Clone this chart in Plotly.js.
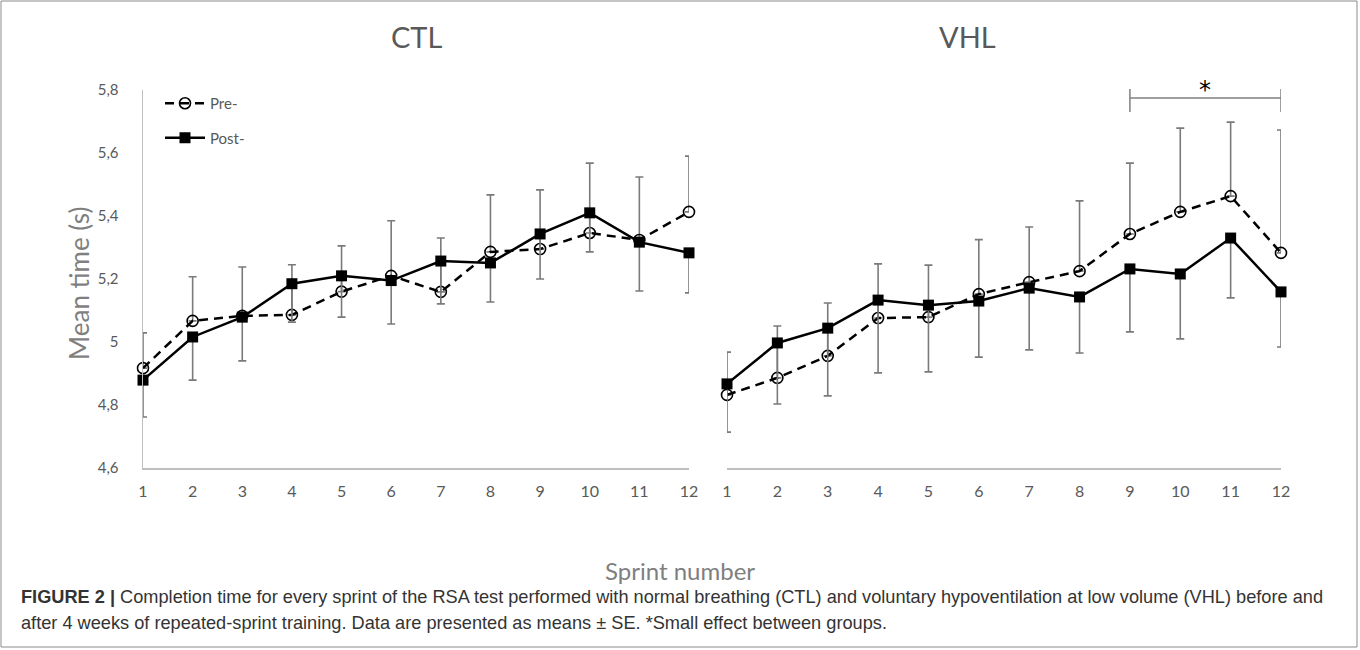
<!DOCTYPE html>
<html>
<head>
<meta charset="utf-8">
<script src="https://cdn.plot.ly/plotly-3.0.1.min.js"></script>
<style>html,body{margin:0;padding:0;background:#fff;}#chart{width:1360px;height:650px;}</style>
</head>
<body>
<div id="chart"></div>
<script>
// Sprint numbers (x categories)
const sprints = [1, 2, 3, 4, 5, 6, 7, 8, 9, 10, 11, 12];

// CTL group: mean completion time (s)
const ctlPre  = [4.917, 5.067, 5.083, 5.086, 5.160, 5.210, 5.159, 5.286, 5.295, 5.346, 5.324, 5.413];
const ctlPost = [4.879, 5.016, 5.079, 5.185, 5.210, 5.195, 5.257, 5.251, 5.343, 5.410, 5.317, 5.283];
// CTL SE (pre drawn upward, post drawn downward as in the figure)
const ctlPreSE  = [0.112, 0.140, 0.155, 0.159, 0.145, 0.175, 0.171, 0.181, 0.188, 0.222, 0.200, 0.177];
const ctlPostSE = [0.117, 0.137, 0.139, 0.122, 0.131, 0.138, 0.136, 0.124, 0.143, 0.124, 0.155, 0.127];

// VHL group: mean completion time (s)
const vhlPre  = [4.832, 4.886, 4.956, 5.076, 5.079, 5.152, 5.190, 5.225, 5.343, 5.413, 5.463, 5.283];
const vhlPost = [4.867, 4.997, 5.044, 5.133, 5.117, 5.130, 5.171, 5.143, 5.232, 5.216, 5.330, 5.159];
const vhlPreSE  = [0.136, 0.165, 0.168, 0.172, 0.165, 0.173, 0.175, 0.223, 0.225, 0.266, 0.235, 0.390];
const vhlPostSE = [0.153, 0.194, 0.215, 0.231, 0.212, 0.178, 0.196, 0.178, 0.200, 0.206, 0.190, 0.175];

// Tick labels / texts
const yTicks = [4.6, 4.8, 5.0, 5.2, 5.4, 5.6, 5.8];
const seriesNames = ["Pre-", "Post-"];
const panelTitles = ["CTL", "VHL"];
const sigRange = [9, 12];
const sigLabel = "*";
const yTitle = "Mean time (s)";
const xTitle = "Sprint number";
const caption1 = "<b>FIGURE 2 |</b> Completion time for every sprint of the RSA test performed with normal breathing (CTL) and voluntary hypoventilation at low volume (VHL) before and";
const caption2 = "after 4 weeks of repeated-sprint training. Data are presented as means \u00b1 SE. *Small effect between groups.";

const zeros = sprints.map(() => 0);
const errColor = "#7a7a7a";

function preTrace(y, se, xa, ya, show) {
  return {
    x: sprints, y: y, xaxis: xa, yaxis: ya, type: "scatter", mode: "lines+markers",
    name: seriesNames[0], legendgroup: "pre", showlegend: show, cliponaxis: false,
    line: {color: "#000", width: 2.5, dash: "9px,6px"},
    marker: {symbol: "circle-open", size: 11, color: "#000", line: {width: 1.6, color: "#000"}},
    error_y: {type: "data", symmetric: false, array: se, arrayminus: zeros, color: errColor, thickness: 1.6, width: 4}
  };
}
function postTrace(y, se, xa, ya, show) {
  return {
    x: sprints, y: y, xaxis: xa, yaxis: ya, type: "scatter", mode: "lines+markers",
    name: seriesNames[1], legendgroup: "post", showlegend: show, cliponaxis: false,
    line: {color: "#000", width: 2.5},
    marker: {symbol: "square", size: 11, color: "#000"},
    error_y: {type: "data", symmetric: false, array: zeros, arrayminus: se, color: errColor, thickness: 1.6, width: 4}
  };
}

const data = [
  preTrace(ctlPre, ctlPreSE, "x", "y", true),
  postTrace(ctlPost, ctlPostSE, "x", "y", true),
  preTrace(vhlPre, vhlPreSE, "x2", "y2", false),
  postTrace(vhlPost, vhlPostSE, "x2", "y2", false)
];

// layout geometry
const W = 1360, H = 650;
const mL = 143, mR = 79, mT = 90, mB = 182;
const plotW = W - mL - mR, plotH = H - mT - mB;
const px2x = p => (p - mL) / plotW;
const px2y = p => (H - mB - p) / plotH;

const axisGray = "#bfbfbf";
const sansFont = "Lato, 'Open Sans', sans-serif";

const xBase = {
  range: [1, 12], tickvals: sprints, showgrid: false, zeroline: false,
  showline: true, linecolor: axisGray, linewidth: 1.5, ticks: "",
  tickfont: {family: sansFont, size: 16, color: "#595959"}, ticklabelstandoff: 8, fixedrange: true
};
const yBase = {
  range: [4.6, 5.8], tickvals: yTicks, showgrid: false, zeroline: false,
  tickfont: {family: sansFont, size: 15, color: "#595959"}, fixedrange: true
};

const layout = {
  width: W, height: H,
  margin: {l: mL, r: mR, t: mT, b: mB, pad: 0},
  paper_bgcolor: "#fff", plot_bgcolor: "#fff",
  separators: ", ",
  showlegend: true,
  legend: {
    x: px2x(160), y: px2y(87), xanchor: "left", yanchor: "top",
    bgcolor: "rgba(0,0,0,0)", borderwidth: 0,
    font: {family: sansFont, size: 15, color: "#595959"},
    traceorder: "grouped", tracegroupgap: 12, itemwidth: 40
  },
  xaxis: Object.assign({}, xBase, {domain: [0, px2x(689)], anchor: "y"}),
  xaxis2: Object.assign({}, xBase, {domain: [px2x(727), 1], anchor: "y2"}),
  yaxis: Object.assign({}, yBase, {
    anchor: "x", showline: true, linecolor: axisGray, linewidth: 1.5, ticks: "",
    ticklabelstandoff: 20
  }),
  yaxis2: Object.assign({}, yBase, {anchor: "x2", showline: false, showticklabels: false, ticks: ""}),
  shapes: [
    // significance bracket
    {type: "line", xref: "x2", yref: "paper", x0: sigRange[0], x1: sigRange[1], y0: px2y(98), y1: px2y(98), line: {color: "#7f7f7f", width: 1.5}},
    {type: "line", xref: "x2", yref: "paper", x0: sigRange[0], x1: sigRange[0], y0: px2y(89), y1: px2y(112), line: {color: "#7f7f7f", width: 1.5}},
    {type: "line", xref: "x2", yref: "paper", x0: sigRange[1], x1: sigRange[1], y0: px2y(89), y1: px2y(112), line: {color: "#7f7f7f", width: 1.5}},
    // figure frame
    {type: "rect", xref: "paper", yref: "paper", x0: px2x(1), x1: px2x(1357), y0: px2y(647), y1: px2y(1), line: {color: "#8c8c8c", width: 1}}
  ],
  annotations: [
    {text: yTitle, textangle: -90, xref: "paper", yref: "paper", x: px2x(79), y: px2y(284), xanchor: "center", yanchor: "middle", showarrow: false,
     font: {family: sansFont, size: 26, color: "#7f7f7f"}},
    {text: panelTitles[0], xref: "paper", yref: "paper", x: px2x(416), y: px2y(37), xanchor: "center", yanchor: "middle", showarrow: false,
     font: {family: sansFont, size: 29, color: "#595959"}},
    {text: panelTitles[1], xref: "paper", yref: "paper", x: px2x(967), y: px2y(37), xanchor: "center", yanchor: "middle", showarrow: false,
     font: {family: sansFont, size: 29, color: "#595959"}},
    {text: sigLabel, xref: "x2", yref: "paper", x: (sigRange[0] + sigRange[1]) / 2, y: px2y(90), xanchor: "center", yanchor: "middle", showarrow: false,
     font: {family: "'DejaVu Sans', sans-serif", size: 24, color: "#000"}},
    {text: xTitle, xref: "paper", yref: "paper", x: px2x(680), y: px2y(570), xanchor: "center", yanchor: "middle", showarrow: false,
     font: {family: sansFont, size: 24, color: "#7f7f7f"}},
    {text: caption1, xref: "paper", yref: "paper", x: px2x(19), y: px2y(597), xanchor: "left", yanchor: "middle", showarrow: false, align: "left",
     font: {family: "'Liberation Sans', Arial, sans-serif", size: 18.2, color: "#333"}},
    {text: caption2, xref: "paper", yref: "paper", x: px2x(19), y: px2y(623), xanchor: "left", yanchor: "middle", showarrow: false, align: "left",
     font: {family: "'Liberation Sans', Arial, sans-serif", size: 18.2, color: "#333"}}
  ]
};

Plotly.newPlot("chart", data, layout, {staticPlot: true, displayModeBar: false});
</script>
</body>
</html>
